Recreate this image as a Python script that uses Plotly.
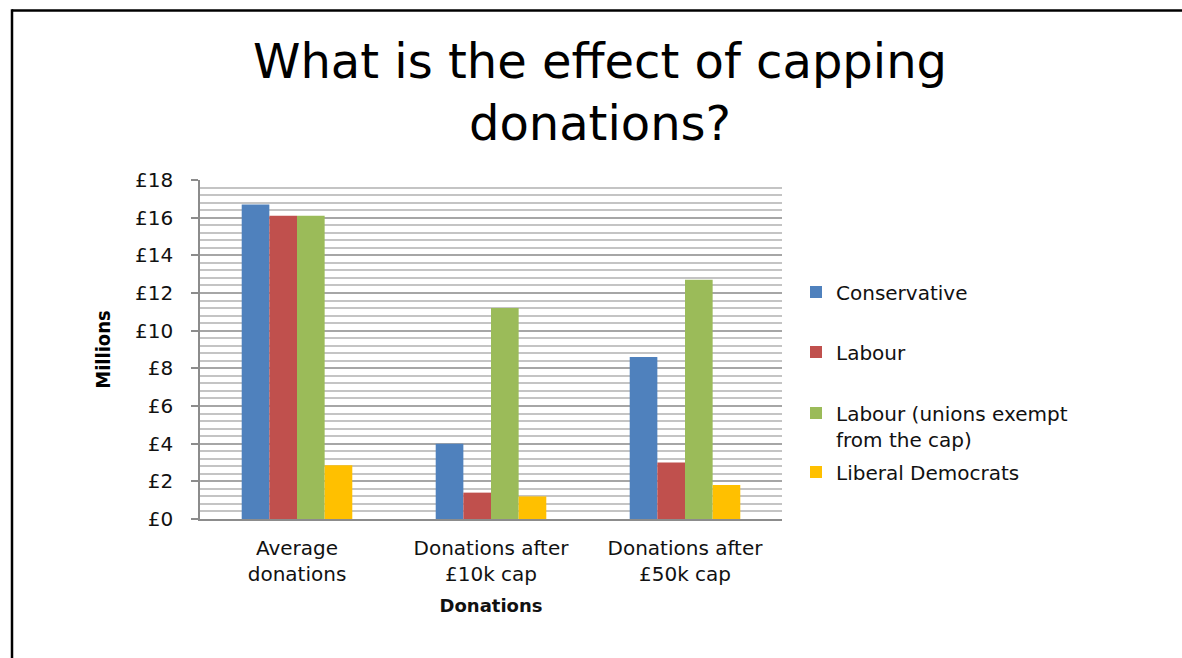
import plotly.graph_objects as go

categories = ["Average<br>donations", "Donations after<br>£10k cap", "Donations after<br>£50k cap"]
series_names = ["Conservative", "Labour", "Labour (unions exempt<br>from the cap)", "Liberal Democrats"]
conservative = [16.7, 4.0, 8.6]
labour = [16.1, 1.4, 3.0]
labour_unions_exempt = [16.1, 11.2, 12.7]
liberal_democrats = [2.85, 1.2, 1.8]
colors = ["#4F81BD", "#C0504D", "#9BBB59", "#FFC000"]
y_ticks = [0, 2, 4, 6, 8, 10, 12, 14, 16, 18]

W, H = 1182, 658
L, R, T, B = 200, 400, 180, 139
PW, PH = W - L - R, H - T - B

def px_x(x):
    return (x - L) / PW

def px_y(y):
    return (H - B - y) / PH

fig = go.Figure()
values = [conservative, labour, labour_unions_exempt, liberal_democrats]
legend_ids = ["legend", "legend2", "legend3", "legend4"]
for name, vals, col, lg in zip(series_names, values, colors, legend_ids):
    fig.add_trace(go.Bar(x=categories, y=vals, name=name, marker=dict(color=col, line=dict(width=0)),
                         legend=lg))

legend_font = dict(family="DejaVu Sans", size=20, color="#111111")
legend_x = px_x(796)
common = dict(x=legend_x, xanchor="left", yanchor="middle", font=legend_font,
              bgcolor="rgba(0,0,0,0)", borderwidth=0)
fig.update_layout(
    width=W, height=H,
    margin=dict(l=L, r=R, t=T, b=B, autoexpand=False),
    paper_bgcolor="white", plot_bgcolor="white",
    barmode="group", bargap=0.43, bargroupgap=0,
    title=dict(text="What is the effect of capping<br>donations?",
               font=dict(family="DejaVu Sans", size=48, color="#000000"),
               x=600 / W, xref="container", xanchor="center",
               y=1 - 78 / H, yref="container", yanchor="middle"),
    showlegend=True,
    legend=dict(y=px_y(292), **common),
    legend2=dict(y=px_y(352), **common),
    legend3=dict(y=px_y(426), valign="top", **common),
    legend4=dict(y=px_y(472), **common),
    xaxis=dict(
        showline=True, linecolor="#8c8c8c", linewidth=1.5,
        ticks="", showgrid=False,
        tickfont=dict(family="DejaVu Sans", size=20, color="#111111"),
        ticklabelstandoff=10,
        title=dict(text="<b>Donations</b>", font=dict(family="DejaVu Sans", size=18, color="#111111"),
                   standoff=15),
    ),
    yaxis=dict(
        range=[0, 18], tickmode="array", tickvals=y_ticks,
        ticktext=["£" + str(v) for v in y_ticks],
        showline=True, linecolor="#8c8c8c", linewidth=1.5,
        ticks="outside", ticklen=7, tickcolor="#8c8c8c", tickwidth=1.5,
        tickfont=dict(family="DejaVu Sans", size=20, color="#111111"),
        ticklabelstandoff=14,
        showgrid=True, gridcolor="#a6a6a6", gridwidth=1.5,
        minor=dict(dtick=0.4, tick0=0, showgrid=True, gridcolor="#c4c4c4", gridwidth=1.5, ticks=""),
        zeroline=False,
        title=dict(text="<b>Millions</b>",
                   font=dict(family="DejaVu Sans Condensed, Liberation Sans Narrow, Arial Narrow", size=20, color="#000000"),
                   standoff=19),
    ),
    shapes=[
        dict(type="line", xref="paper", yref="paper", x0=px_x(12), x1=px_x(W + 5), y0=px_y(10.5), y1=px_y(10.5),
             line=dict(color="black", width=2.5)),
        dict(type="line", xref="paper", yref="paper", x0=px_x(12), x1=px_x(12), y0=px_y(9.3), y1=px_y(H + 5),
             line=dict(color="black", width=2.5)),
    ],
)

fig.write_html("out.html")
